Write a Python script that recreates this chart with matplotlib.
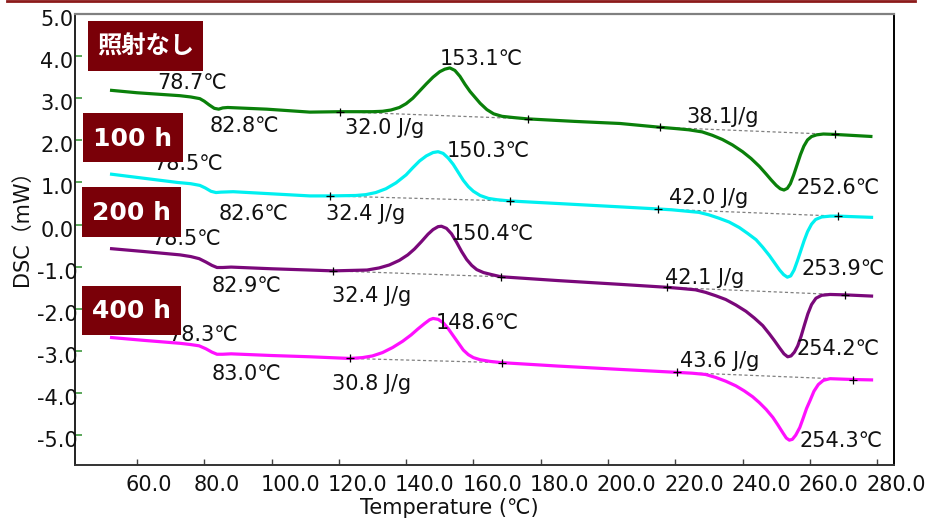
import matplotlib
matplotlib.use("Agg")
import matplotlib.pyplot as plt
from matplotlib.patches import Rectangle
from matplotlib.lines import Line2D
from matplotlib.transforms import blended_transform_factory, ScaledTranslation

# ---------------- data ----------------
t_green = [52.0, 60.0, 72.8, 76.0, 78.7, 80.0, 81.5, 83.0, 84.3, 85.5, 87.0, 98.6, 111.4, 120.3, 130.0,
           133.0, 135.5, 138.0, 140.0, 142.0, 144.0, 146.0, 148.0, 150.0, 151.5, 153.0, 154.5, 156.0, 157.5,
           159.0, 160.5, 162.0, 164.0, 166.0, 168.5, 172.0, 176.0, 190.0, 203.6, 215.5, 220.0, 224.0, 228.0,
           231.0, 234.0, 237.0, 240.0, 242.5, 245.0, 247.0, 248.5, 250.0, 251.2, 252.3, 253.3, 254.2, 255.2,
           256.2, 257.2, 258.2, 259.3, 260.5, 262.0, 264.0, 267.5, 278.6]
y_green = [3.19, 3.13, 3.06, 3.03, 2.99, 2.93, 2.84, 2.76, 2.74, 2.77, 2.78, 2.74, 2.67, 2.68, 2.68,
           2.69, 2.72, 2.78, 2.87, 3.00, 3.17, 3.34, 3.50, 3.63, 3.69, 3.72, 3.66, 3.52, 3.33,
           3.16, 3.02, 2.88, 2.73, 2.63, 2.57, 2.54, 2.51, 2.45, 2.40, 2.31, 2.28, 2.25, 2.20,
           2.12, 2.02, 1.89, 1.73, 1.57, 1.38, 1.20, 1.06, 0.93, 0.85, 0.82, 0.86, 0.97, 1.18,
           1.42, 1.66, 1.86, 2.01, 2.09, 2.13, 2.15, 2.14, 2.09]

t_cyan = [52.0, 66.0, 72.0, 76.0, 78.7, 80.3, 82.0, 83.5, 85.0, 88.6, 100.0, 111.4, 117.4, 125.0, 128.0,
          131.0, 134.0, 137.0, 140.0, 142.0, 144.0, 146.0, 148.0, 149.5, 151.0, 152.5, 154.0, 155.5, 157.0,
          158.5, 160.0, 162.0, 164.5, 167.0, 170.9, 185.0, 203.6, 214.9, 219.0, 223.0, 227.0, 230.0, 233.0,
          236.0, 239.0, 241.5, 244.0, 246.0, 248.0, 249.5, 251.0, 252.2, 253.3, 254.3, 255.3, 256.3, 257.3,
          258.3, 259.3, 260.5, 261.7, 263.5, 266.0, 268.4, 278.8]
y_cyan = [1.20, 1.06, 1.00, 0.97, 0.93, 0.87, 0.79, 0.76, 0.77, 0.78, 0.73, 0.68, 0.68, 0.69, 0.71,
          0.76, 0.85, 0.99, 1.18, 1.35, 1.51, 1.63, 1.71, 1.73, 1.69, 1.58, 1.43, 1.24, 1.05,
          0.90, 0.79, 0.69, 0.62, 0.59, 0.56, 0.50, 0.42, 0.37, 0.35, 0.32, 0.29, 0.23, 0.15,
          0.06, -0.07, -0.21, -0.36, -0.54, -0.74, -0.91, -1.08, -1.19, -1.25, -1.22, -1.08, -0.86, -0.62,
          -0.38, -0.17, 0.01, 0.12, 0.18, 0.20, 0.20, 0.17]

t_purple = [52.0, 62.0, 72.8, 76.0, 78.5, 80.5, 82.3, 83.8, 85.5, 88.0, 100.0, 111.4, 118.3, 128.4, 132.0,
            135.0, 138.0, 140.5, 142.5, 144.5, 146.5, 148.0, 149.5, 150.5, 152.0, 153.5, 155.0, 156.5, 158.0,
            159.5, 161.0, 163.0, 165.5, 168.2, 185.0, 203.6, 217.5, 222.0, 226.0, 229.0, 232.0, 235.0, 238.0,
            241.0, 243.5, 246.0, 248.0, 249.5, 251.0, 252.3, 253.4, 254.4, 255.4, 256.4, 257.4, 258.4, 259.4,
            260.5, 261.8, 263.5, 266.0, 270.5, 278.8]
y_purple = [-0.57, -0.64, -0.72, -0.76, -0.81, -0.89, -0.97, -1.02, -1.02, -1.01, -1.05, -1.08, -1.10, -1.08, -1.03,
            -0.96, -0.85, -0.72, -0.58, -0.41, -0.23, -0.12, -0.05, -0.04, -0.09, -0.22, -0.42, -0.64, -0.83,
            -0.97, -1.07, -1.14, -1.19, -1.24, -1.33, -1.42, -1.49, -1.52, -1.55, -1.61, -1.69, -1.78, -1.91,
            -2.06, -2.22, -2.40, -2.60, -2.76, -2.93, -3.07, -3.14, -3.12, -3.03, -2.88, -2.65, -2.38, -2.12,
            -1.90, -1.75, -1.68, -1.66, -1.67, -1.70]

t_magenta = [52.0, 62.0, 72.8, 76.0, 78.5, 80.5, 82.3, 83.8, 85.5, 88.0, 100.0, 111.4, 123.3, 127.0, 130.0,
             133.0, 136.0, 139.0, 141.5, 143.5, 145.5, 147.0, 148.0, 149.5, 151.0, 152.5, 154.0, 155.5, 157.0,
             158.5, 160.0, 162.0, 165.0, 168.5, 185.0, 203.6, 220.5, 225.0, 229.0, 232.0, 235.0, 238.0, 240.5,
             243.0, 245.0, 247.0, 249.0, 250.5, 252.0, 253.0, 253.9, 254.8, 255.8, 257.0, 258.0, 259.0, 260.1,
             261.2, 262.5, 264.0, 266.0, 272.8, 278.8]
y_magenta = [-2.68, -2.75, -2.82, -2.85, -2.88, -2.95, -3.03, -3.08, -3.08, -3.07, -3.11, -3.14, -3.18, -3.16, -3.12,
             -3.04, -2.92, -2.77, -2.62, -2.48, -2.35, -2.26, -2.23, -2.25, -2.33, -2.47, -2.64, -2.81, -2.98,
             -3.09, -3.16, -3.21, -3.25, -3.28, -3.36, -3.44, -3.51, -3.53, -3.56, -3.63, -3.72, -3.83, -3.95,
             -4.09, -4.23, -4.39, -4.58, -4.76, -4.95, -5.07, -5.12, -5.10, -5.00, -4.82, -4.60, -4.37, -4.17,
             -3.96, -3.80, -3.70, -3.66, -3.68, -3.69]

# baselines: (t0, y0, t1, y1)
base_green = [(120.3, 2.68, 176.2, 2.51), (215.5, 2.31, 267.5, 2.14)]
base_cyan = [(117.4, 0.68, 170.9, 0.56), (214.9, 0.37, 268.4, 0.20)]
base_purple = [(118.3, -1.10, 168.2, -1.24), (217.5, -1.49, 270.5, -1.67)]
base_magenta = [(123.3, -3.18, 168.5, -3.28), (220.5, -3.51, 272.8, -3.68)]

# annotations: (text, T, y)
labels = [
    ("78.7℃", 76.3, 3.36), ("82.8℃", 92.1, 2.34), ("153.1℃", 162.3, 3.93), ("32.0 J/g", 133.7, 2.29),
    ("38.1J/g", 234.2, 2.55), ("252.6℃", 268.4, 0.87),
    ("78.5℃", 75.2, 1.44), ("82.6℃", 94.8, 0.25), ("150.3℃", 164.3, 1.75), ("32.4 J/g", 128.1, 0.25),
    ("42.0 J/g", 230.0, 0.63), ("253.9℃", 269.9, -1.05),
    ("78.5℃", 74.6, -0.34), ("82.9℃", 92.7, -1.46), ("150.4℃", 165.5, -0.22), ("32.4 J/g", 129.9, -1.70),
    ("42.1 J/g", 228.8, -1.27), ("254.2℃", 268.4, -2.95),
    ("78.3℃", 79.6, -2.62), ("83.0℃", 92.7, -3.55), ("148.6℃", 161.1, -2.34), ("30.8 J/g", 129.6, -3.79),
    ("43.6 J/g", 233.3, -3.24), ("254.3℃", 269.3, -5.14),
]

series_names = ["照射なし", "100 h", "200 h", "400 h"]
xticks = [60.0, 80.0, 100.0, 120.0, 140.0, 160.0, 180.0, 200.0, 220.0, 240.0, 260.0, 280.0]
yticks = [5.0, 4.0, 3.0, 2.0, 1.0, 0.0, -1.0, -2.0, -3.0, -4.0, -5.0]

# ---------------- figure ----------------
W, H = 927, 518
fig = plt.figure(figsize=(W / 100, H / 100), dpi=100)
ax = fig.add_axes([75 / W, 1 - 465 / H, (894 - 75) / W, (465 - 14) / H])
ax.set_xlim(41.6, 285.0)
ax.set_ylim(-5.71, 5.0)

FAM = ["DejaVu Sans", "Noto Sans CJK JP"]
FS = 15

colors = ["#0a800a", "#00f0f0", "#7a087a", "#ff10ff"]
curves = [(t_green, y_green), (t_cyan, y_cyan), (t_purple, y_purple), (t_magenta, y_magenta)]
bases = [base_green, base_cyan, base_purple, base_magenta]
for (tt, yy), c in zip(curves, colors):
    ax.plot(tt, yy, color=c, lw=2.3, solid_joinstyle="round", solid_capstyle="butt", zorder=3)
for bl in bases:
    for (t0, y0, t1, y1) in bl:
        ax.plot([t0, t1], [y0, y1], color="#808080", lw=0.9, ls=(0, (2.5, 2)), zorder=2)
        ax.plot([t0, t1], [y0, y1], ls="none", marker="+", ms=6, mew=0.9, color="black", zorder=4)

for txt, t, y in labels:
    ax.text(t, y, txt, ha="center", va="center", fontsize=FS, family=FAM, color="#111111", zorder=5)

# spines
ax.spines["top"].set_color("#808080")
ax.spines["top"].set_linewidth(1.6)
ax.spines["right"].set_color("black")
ax.spines["right"].set_linewidth(1.4)
ax.spines["left"].set_color("#222222")
ax.spines["left"].set_linewidth(1.4)
ax.spines["bottom"].set_color("#333333")
ax.spines["bottom"].set_linewidth(1.4)

ax.set_xticks(xticks)
ax.set_yticks(yticks)
ax.tick_params(axis="x", direction="in", length=4, width=1.0, color="#444444", labelbottom=False)
ax.tick_params(axis="y", direction="in", length=5, width=1.1, color="#2e8f2e", labelleft=False)

xtr = blended_transform_factory(ax.transData, ax.transAxes) + ScaledTranslation(-11 / 100, -20 / 100, fig.dpi_scale_trans)
for t in xticks:
    ax.text(t, 0, f"{t:.1f}", transform=xtr, ha="left", va="center", fontsize=FS, family=FAM,
            color="#111111", clip_on=False)
ytr = blended_transform_factory(ax.transAxes, ax.transData) + ScaledTranslation(-18 / 100, -6 / 100, fig.dpi_scale_trans)
for v in yticks:
    ax.text(0, v, f"{v:.1f}", transform=ytr, ha="center", va="center", fontsize=FS, family=FAM,
            color="#111111", clip_on=False)

fig.text(449 / W, 1 - 508 / H, "Temperature (℃)", ha="center", va="center", fontsize=FS, family=FAM, color="#111111")
fig.text(22 / W, 1 - 223 / H, "DSC（mW）", ha="center", va="center", rotation=90, fontsize=FS, family=FAM,
         color="#111111")

# label boxes (figure pixel positions)
boxes = [(88, 21, 203, 71), (83, 113, 183, 162), (82, 187, 181, 237), (82, 286, 181, 335)]
box_color = "#7a0008"
for name, (x0, y0, x1, y1) in zip(series_names, boxes):
    r = Rectangle((x0 / W, 1 - y1 / H), (x1 - x0) / W, (y1 - y0) / H, transform=fig.transFigure,
                  facecolor=box_color, edgecolor="none", zorder=10)
    fig.add_artist(r)
    fam = ["Noto Sans CJK JP"] if name == "照射なし" else FAM
    fs = 17.5 if name == "照射なし" else 18
    fig.text((x0 + x1) / 2 / W, 1 - ((y0 + y1) / 2 + 1) / H, name, ha="center", va="center", fontsize=fs,
             family=fam, fontweight="bold", color="white", zorder=11)

# top red rule of the slide
fig.add_artist(Line2D([7 / W, 915 / W], [1 - 1 / H, 1 - 1 / H], transform=fig.transFigure, color="#8c1a1a", lw=2))

fig.savefig("out.png", dpi=100)
